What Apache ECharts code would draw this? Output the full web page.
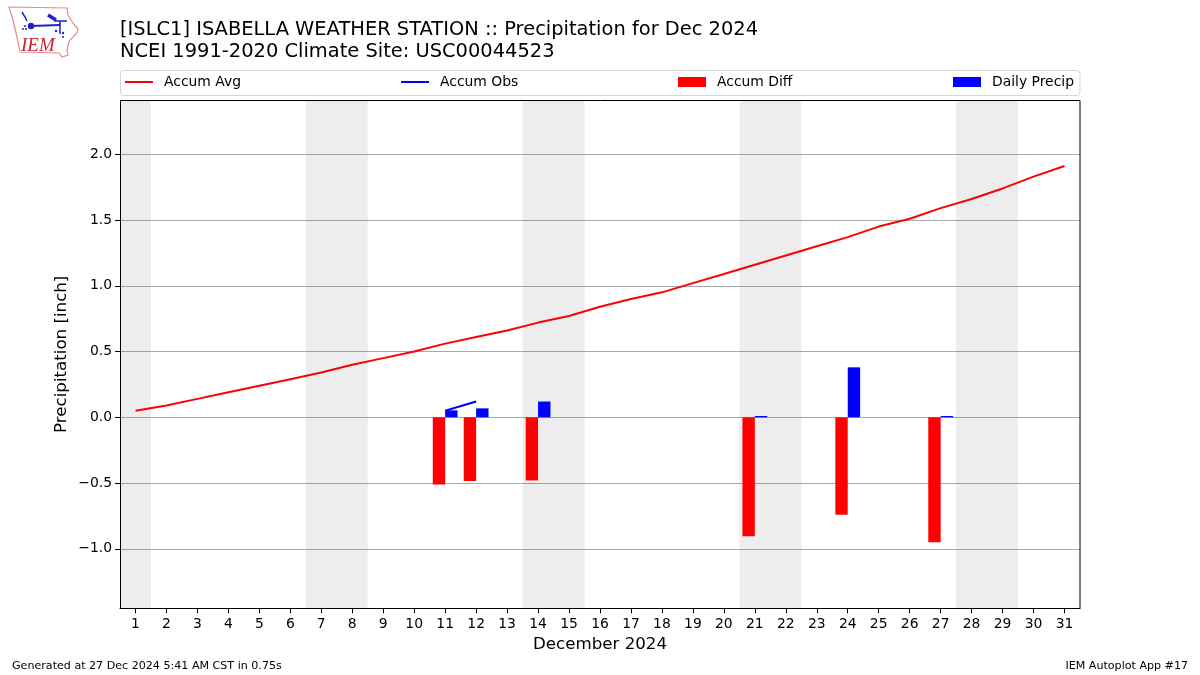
<!DOCTYPE html>
<html><head><meta charset="utf-8">
<style>html,body{margin:0;padding:0;background:#fff}#c{width:1200px;height:675px}</style>
<script src="https://cdn.jsdelivr.net/npm/echarts@6/dist/echarts.min.js"></script>
</head><body><div id="c"></div>
<script>
const days = ['1','2','3','4','5','6','7','8','9','10','11','12','13','14','15','16','17','18','19','20','21','22','23','24','25','26','27','28','29','30','31'];
const accumAvg = [0.05,0.09,0.14,0.19,0.24,0.29,0.34,0.40,0.45,0.50,0.56,0.61,0.66,0.72,0.77,0.84,0.90,0.95,1.02,1.09,1.16,1.23,1.30,1.37,1.45,1.51,1.59,1.66,1.74,1.83,1.91];
const accumObs = [null,null,null,null,null,null,null,null,null,null,0.05,0.12,null,null,null,null,null,null,null,null,null,null,null,null,null,null,null,null,null,null,null];
const accumDiff = [null,null,null,null,null,null,null,null,null,null,-0.51,-0.485,null,-0.48,null,null,null,null,null,null,-0.905,null,null,-0.74,null,null,-0.95,null,null,null,null];
const dailyPrecip = [null,null,null,null,null,null,null,null,null,null,0.053,0.068,null,0.12,null,null,null,null,null,null,0.01,null,null,0.38,null,null,0.01,null,null,null,null];
const weekendDays = ['1','7','8','14','15','21','22','28','29'];
const yTicks = [-1,-0.5,0,0.5,1,1.5,2];
const titleLines = ['[ISLC1] ISABELLA WEATHER STATION :: Precipitation for Dec 2024','NCEI 1991-2020 Climate Site: USC00044523'];
const seriesNames = ['Accum Avg','Accum Obs','Accum Diff','Daily Precip'];

const FONT = '"DejaVu Sans"';
const BLUE = '#2020d0';
const chart = echarts.init(document.getElementById('c'), null, {renderer:'canvas'});
function legendFor(name, left, h){
  return {show:true, data:[name], left:left, top:82-Math.max(h,14)/2, orient:'horizontal', padding:0,
    itemWidth:28, itemHeight:h, icon:'rect', selectedMode:false,
    textStyle:{fontFamily:FONT,fontSize:13.9,color:'#000',padding:[0,0,0,6]}};
}
chart.setOption({
  animation:false,
  backgroundColor:'#fff',
  textStyle:{fontFamily:FONT},
  title:[
    {text:titleLines[0],left:120,top:20,padding:0,textStyle:{fontFamily:FONT,fontSize:19.44,fontWeight:'normal',color:'#000'}},
    {text:titleLines[1],left:120,top:42,padding:0,textStyle:{fontFamily:FONT,fontSize:19.44,fontWeight:'normal',color:'#000'}},
    {text:'Generated at 27 Dec 2024 5:41 AM CST in 0.75s',left:12,top:661,padding:0,textStyle:{fontFamily:FONT,fontSize:11.1,fontWeight:'normal',color:'#000'}},
    {text:'IEM Autoplot App #17',right:12,top:661,padding:0,textStyle:{fontFamily:FONT,fontSize:11.1,fontWeight:'normal',color:'#000'}}
  ],
  legend:[legendFor(seriesNames[0],125,2),legendFor(seriesNames[1],401,2),legendFor(seriesNames[2],678,10),legendFor(seriesNames[3],953,10)],
  grid:{left:120,top:100.3,width:960,height:508,show:false},
  xAxis:[
    {type:'category',data:days,boundaryGap:true,
     name:'December 2024',nameLocation:'middle',nameGap:28,nameTextStyle:{fontFamily:FONT,fontSize:16.67,color:'#000'},
     axisLine:{show:true,onZero:false,lineStyle:{color:'#000',width:1}},
     axisTick:{show:true,alignWithLabel:true,length:5,lineStyle:{color:'#000',width:1}},
     axisLabel:{interval:0,margin:9,fontFamily:FONT,fontSize:13.9,color:'#000'},
     splitLine:{show:false}},
    {type:'category',data:days,boundaryGap:true,show:false}
  ],
  yAxis:[
    {type:'value',min:-1.452,max:2.41,
     name:'Precipitation [inch]',nameLocation:'middle',nameGap:50,nameRotate:90,nameMoveOverlap:false,nameTextStyle:{fontFamily:FONT,fontSize:16.67,color:'#000'},
     axisLine:{show:true,lineStyle:{color:'#000',width:1}},
     axisTick:{show:true,length:5,customValues:yTicks,lineStyle:{color:'#000',width:1}},
     axisLabel:{customValues:yTicks,margin:8,fontFamily:FONT,fontSize:13.9,color:'#000',
       formatter:v=>(v<0?'\u2212':'')+Math.abs(v).toFixed(1)},
     splitLine:{show:true,lineStyle:{color:'#aaaaaa',width:1}}},
    {type:'value',min:0,max:1,show:false}
  ],
  series:[
    {name:'Weekend',type:'bar',xAxisIndex:1,yAxisIndex:1,barWidth:'100%',
      data:days.map(d=>weekendDays.includes(d)?1:null),
      itemStyle:{color:'rgba(0,0,0,0.07)'},z:1,silent:true},
    {name:seriesNames[2],type:'bar',data:accumDiff,barWidth:'40%',barGap:'0%',itemStyle:{color:'#ff0000'},z:3,silent:true},
    {name:seriesNames[3],type:'bar',data:dailyPrecip,barWidth:'40%',barGap:'0%',itemStyle:{color:'#0000ff'},z:3,silent:true},
    {name:seriesNames[0],type:'line',data:accumAvg,showSymbol:false,symbol:'none',lineStyle:{color:'#ff0000',width:2},itemStyle:{color:'#ff0000'},z:4,silent:true},
    {name:seriesNames[1],type:'line',data:accumObs,showSymbol:false,symbol:'none',connectNulls:false,lineStyle:{color:'#0000ff',width:2},itemStyle:{color:'#0000ff'},z:4,silent:true}
  ],
  graphic:[
    {type:'rect',shape:{x:120.5,y:100.5,width:959.5,height:508},style:{fill:'none',stroke:'#000',lineWidth:1},z:10,silent:true},
    {type:'rect',shape:{x:120.5,y:70.5,width:959.5,height:25,r:3},style:{fill:'none',stroke:'#d5d5d5',lineWidth:1},z:1,silent:true},
    {type:'polygon',shape:{points:[[9,7],[67,8],[68,15],[73,23],[78,29],[77,33],[69,41],[67,50],[68,55],[62,57],[59,53],[20,52],[17,37],[13,20]]},style:{fill:'#fff',stroke:'#e58a90',lineWidth:1.2},z:1,silent:true},
    {type:'polyline',shape:{points:[[22,12],[25,17],[27,21]]},style:{fill:'none',stroke:BLUE,lineWidth:1.5},z:2,silent:true},
    {type:'polyline',shape:{points:[[31,26],[60,25]]},style:{fill:'none',stroke:BLUE,lineWidth:2},z:2,silent:true},
    {type:'polyline',shape:{points:[[48,15],[56,20]]},style:{fill:'none',stroke:BLUE,lineWidth:3.5},z:2,silent:true},
    {type:'polyline',shape:{points:[[54,21],[67,21]]},style:{fill:'none',stroke:BLUE,lineWidth:1.5},z:2,silent:true},
    {type:'polyline',shape:{points:[[60,21],[60,34]]},style:{fill:'none',stroke:BLUE,lineWidth:1.5},z:2,silent:true},
    {type:'circle',shape:{cx:31,cy:26,r:3.2},style:{fill:BLUE},z:2,silent:true},
    {type:'circle',shape:{cx:23,cy:29,r:1},style:{fill:BLUE},z:2,silent:true},
    {type:'circle',shape:{cx:26,cy:29,r:1},style:{fill:BLUE},z:2,silent:true},
    {type:'circle',shape:{cx:25,cy:26,r:1},style:{fill:BLUE},z:2,silent:true},
    {type:'circle',shape:{cx:56,cy:31,r:1.2},style:{fill:BLUE},z:2,silent:true},
    {type:'circle',shape:{cx:63,cy:33,r:1.2},style:{fill:BLUE},z:2,silent:true},
    {type:'circle',shape:{cx:63,cy:37,r:1},style:{fill:BLUE},z:2,silent:true},
    {type:'text',x:21,y:36,style:{text:'IEM',font:'italic 19px "Liberation Serif"',fill:'#cc2233'},z:2,silent:true}
  ]
});
</script></body></html>
